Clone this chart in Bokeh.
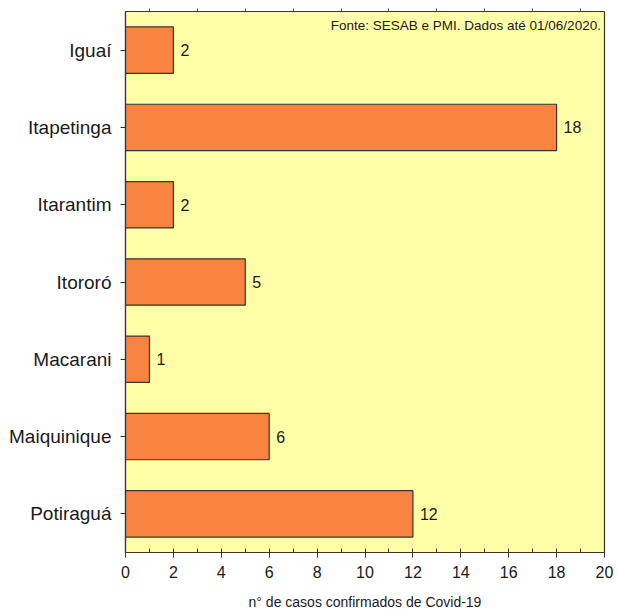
from bokeh.plotting import figure
from bokeh.models import (ColumnDataSource, FactorRange, Range1d, SingleIntervalTicker,
                          FixedTicker, LinearAxis, Label)
from bokeh.core.properties import value
from bokeh.embed import file_html
from bokeh.resources import INLINE

# Confirmed Covid-19 cases per municipality
cities = ["Iguaí", "Itapetinga", "Itarantim", "Itororó", "Macarani", "Maiquinique", "Potiraguá"]
cases = [2, 18, 2, 5, 1, 6, 12]
x_ticks_top = [1, 3, 5, 7, 9, 11, 13, 15, 17, 19]

FONT = "Liberation Sans"
INK = "#1a1a1a"
EDGE = "#3d3428"

source = ColumnDataSource(data=dict(
    city=cities,
    cases=cases,
    label=[str(c) for c in cases],
))

p = figure(
    width=617, height=612,
    y_range=FactorRange(factors=list(reversed(cities))),
    x_range=Range1d(0, 20),
    output_backend="svg", toolbar_location=None,
    min_border_left=125, min_border_right=13,
    min_border_top=11, min_border_bottom=59,
    x_axis_location="below",
)
p.background_fill_color = "#ffffa8"
p.border_fill_color = "white"
p.outline_line_color = EDGE
p.outline_line_width = 1.2
p.xgrid.visible = False
p.ygrid.visible = False

p.hbar(y="city", right="cases", left=0, height=0.6, source=source,
       fill_color="#f98441", line_color=EDGE, line_width=1.2)

p.text(x="cases", y="city", text="label", source=source,
       x_offset=7, text_align="left", text_baseline="middle",
       text_font=value(FONT), text_font_size="16px", text_color=INK)

# bottom axis
xa = p.xaxis[0]
xa.ticker = SingleIntervalTicker(interval=2, num_minor_ticks=2)
xa.major_tick_out = 5
xa.major_tick_in = 0
xa.minor_tick_out = 0
xa.minor_tick_in = 4
xa.axis_line_color = EDGE
xa.major_tick_line_color = EDGE
xa.minor_tick_line_color = EDGE
xa.axis_line_width = 1.2
xa.major_label_text_font = FONT
xa.major_label_text_font_size = "16px"
xa.major_label_text_color = INK
xa.major_label_standoff = 8
xa.axis_label = "n° de casos confirmados de Covid-19"
xa.axis_label_text_font = FONT
xa.axis_label_text_font_size = "14px"
xa.axis_label_text_font_style = "normal"
xa.axis_label_text_color = INK
xa.axis_label_standoff = 13

# left axis
ya = p.yaxis[0]
ya.major_tick_out = 5
ya.major_tick_in = 0
ya.axis_line_color = EDGE
ya.major_tick_line_color = EDGE
ya.axis_line_width = 1.2
ya.major_label_text_font = FONT
ya.major_label_text_font_size = "19px"
ya.major_label_text_color = INK
ya.major_label_standoff = 9

# small unlabelled ticks along the top edge
top = LinearAxis(ticker=FixedTicker(ticks=[], minor_ticks=x_ticks_top),
                 major_tick_out=0, major_tick_in=0,
                 minor_tick_out=3, minor_tick_in=0, axis_line_color=None,
                 minor_tick_line_color="#6b6250")
p.add_layout(top, "above")

p.add_layout(Label(x=19.85, y=6.82, text="Fonte: SESAB e PMI. Dados até 01/06/2020.",
                   text_align="right", text_baseline="middle",
                   text_font=FONT, text_font_size="13.5px", text_color=INK))

open("out.html", "w").write(file_html(p, INLINE))
